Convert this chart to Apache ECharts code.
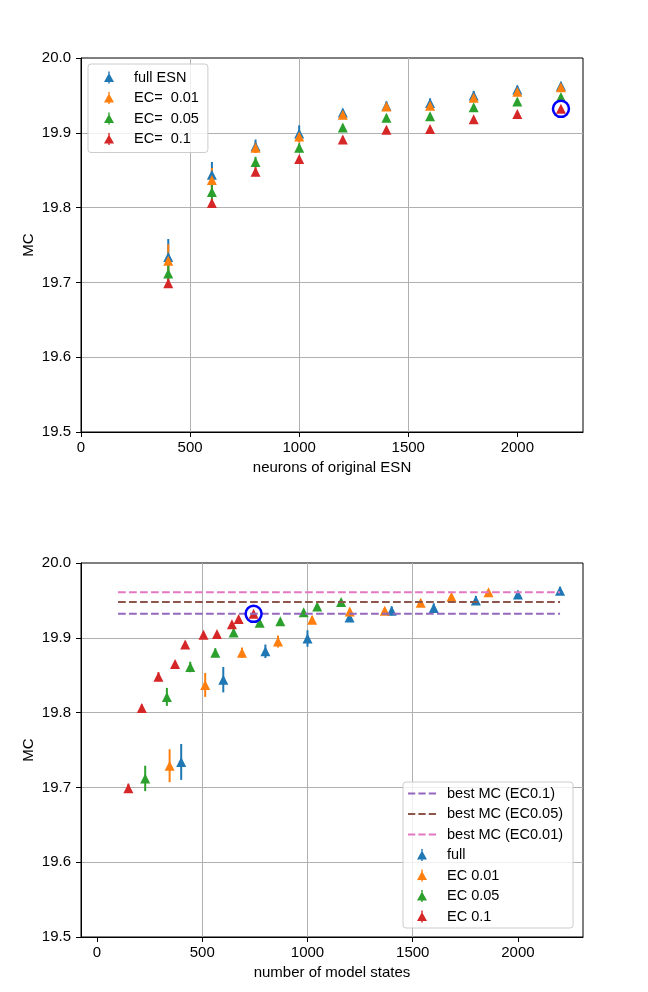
<!DOCTYPE html>
<html>
<head>
<meta charset="utf-8">
<script src="https://cdn.jsdelivr.net/npm/echarts@6/dist/echarts.min.js"></script>
<style>
  html, body { margin: 0; padding: 0; background: #fff; }
  #chart { width: 648px; height: 992px; }
</style>
</head>
<body>
<div id="chart"></div>
<script>
// values
const neurons = [400, 600, 800, 1000, 1200, 1400, 1600, 1800, 2000, 2200];

const mcFull = [19.734, 19.844, 19.882, 19.899, 19.927, 19.936, 19.940, 19.950, 19.958, 19.963];
const mcEc001 = [19.729, 19.837, 19.880, 19.895, 19.924, 19.935, 19.936, 19.947, 19.955, 19.961];
const mcEc005 = [19.712, 19.821, 19.861, 19.880, 19.907, 19.920, 19.922, 19.934, 19.942, 19.948];
const mcEc01 = [19.699, 19.806, 19.848, 19.865, 19.891, 19.904, 19.905, 19.918, 19.925, 19.932];

const errFull = [0.024, 0.017, 0.009, 0.011, 0.005, 0.006, 0.006, 0.006, 0.005, 0.005];
const errEc001 = [0.022, 0.016, 0.007, 0.008, 0.005, 0.004, 0.004, 0.004, 0.003, 0.003];
const errEc005 = [0.017, 0.012, 0.007, 0.006, 0.004, 0.004, 0.003, 0.003, 0.003, 0.003];
const errEc01 = [0.006, 0.005, 0.006, 0.004, 0.004, 0.003, 0.003, 0.003, 0.003, 0.003];

// number of model states (bottom panel)
const statesFull = neurons;
const statesEc001 = [345, 514, 689, 860, 1022, 1201, 1367, 1538, 1684, 1860];
const statesEc005 = [229, 332, 443, 562, 649, 773, 871, 982, 1046, 1160];
const statesEc01 = [149, 213, 292, 371, 419, 506, 570, 641, 673, 744];

const bestNames = ['best MC (EC0.1)', 'best MC (EC0.05)', 'best MC (EC0.01)'];
const bestValues = [19.932, 19.948, 19.961];
const bestRange = [100, 2200];

const circleTop = [[2200, 19.932]];
const circleBottom = [[744, 19.932]];

const xTicks = [0, 500, 1000, 1500, 2000];

const topNames = ['full ESN', 'EC=  0.01', 'EC=  0.05', 'EC=  0.1'];
const bottomNames = ['full', 'EC 0.01', 'EC 0.05', 'EC 0.1'];

const colors = ['#1f77b4', '#ff7f0e', '#2ca02c', '#d62728'];
const bestColors = ['#9467bd', '#8c564b', '#e377c2'];
const FONT = '"Liberation Sans", Arial, sans-serif';

// legend icons: triangle with its error bar, and a dashed line
const triIcon = 'path://M5,1.5 L10,10.5 L0,10.5 Z M4.3,0 L5.7,0 L5.7,12 L4.3,12 Z';
const dashIcon = 'path://M0,0 h7.7 v2 h-7.7 Z M11,0 h7.7 v2 h-7.7 Z M22,0 h7.7 v2 h-7.7 Z';

function errorbarSeries(name, xs, ys, errs, color, gi) {
    return [{
        type: 'custom',
        name: name + ' err',
        xAxisIndex: gi,
        yAxisIndex: gi,
        silent: true,
        data: xs.map((x, i) => [x, ys[i] - errs[i], ys[i] + errs[i]]),
        encode: { x: 0, y: [1, 2] },
        renderItem: function (params, api) {
            const a = api.coord([api.value(0), api.value(1)]);
            const b = api.coord([api.value(0), api.value(2)]);
            return {
                type: 'line',
                shape: { x1: a[0], y1: a[1], x2: b[0], y2: b[1] },
                style: { stroke: color, lineWidth: 2 }
            };
        }
    }, {
        type: 'scatter',
        name: name,
        xAxisIndex: gi,
        yAxisIndex: gi,
        data: xs.map((x, i) => [x, ys[i]]),
        symbol: 'triangle',
        symbolSize: 10,
        itemStyle: { color: color, opacity: 1 }
    }];
}

function circleSeries(data, gi) {
    return {
        type: 'scatter',
        xAxisIndex: gi,
        yAxisIndex: gi,
        data: data,
        symbol: 'circle',
        symbolSize: 16,
        z: 5,
        itemStyle: { color: 'rgba(0,0,0,0)', borderColor: '#0000ff', borderWidth: 2.5, opacity: 1 }
    };
}

function xAxisCfg(gi, min, max, name) {
    return {
        type: 'value',
        gridIndex: gi,
        min: min,
        max: max,
        name: name,
        nameLocation: 'middle',
        nameGap: 28,
        nameMoveOverlap: false,
        nameTextStyle: { fontFamily: FONT, fontSize: 15, color: '#000' },
        axisLine: { show: true, onZero: false, lineStyle: { color: '#000', width: 1 } },
        axisTick: { show: true, inside: false, length: 5, customValues: xTicks, lineStyle: { color: '#000', width: 1 } },
        axisLabel: { fontFamily: FONT, fontSize: 15, color: '#000', margin: 8, customValues: xTicks, formatter: v => String(v) },
        splitLine: { show: true, showMinLine: false, showMaxLine: false, lineStyle: { color: '#b0b0b0', width: 1 } }
    };
}

function yAxisCfg(gi) {
    return {
        type: 'value',
        gridIndex: gi,
        min: 19.5,
        max: 20.0,
        interval: 0.1,
        name: 'MC',
        nameLocation: 'middle',
        nameGap: 45,
        nameRotate: 90,
        nameMoveOverlap: false,
        nameTextStyle: { fontFamily: FONT, fontSize: 15, color: '#000' },
        axisLine: { show: true, onZero: false, lineStyle: { color: '#000', width: 1 } },
        axisTick: { show: true, inside: false, length: 5, lineStyle: { color: '#000', width: 1 } },
        axisLabel: { fontFamily: FONT, fontSize: 15, color: '#000', margin: 10, formatter: v => v.toFixed(1) },
        splitLine: { show: true, showMinLine: false, showMaxLine: false, lineStyle: { color: '#b0b0b0', width: 1 } }
    };
}

const legendBase = {
    orient: 'vertical',
    itemWidth: 28,
    itemHeight: 12,
    itemGap: 5.5,
    selectedMode: false,
    backgroundColor: 'rgba(255,255,255,0.8)',
    borderColor: '#cccccc',
    borderWidth: 1,
    borderRadius: 3,
    // small spacer so the text starts a bit further from the icon
    formatter: n => '{g|}' + n,
    textStyle: {
        fontFamily: FONT, fontSize: 14.5, lineHeight: 14, color: '#000',
        rich: { g: { width: 6, lineHeight: 14 } }
    }
};

const series = [];

// best MC lines (bottom panel, drawn first)
bestNames.forEach((n, i) => {
    series.push({
        type: 'line',
        name: n,
        xAxisIndex: 1,
        yAxisIndex: 1,
        data: bestRange.map(x => [x, bestValues[i]]),
        symbol: 'none',
        silent: true,
        lineStyle: { color: bestColors[i], width: 2, type: [7.7, 3.3] },
        itemStyle: { color: bestColors[i] }
    });
});

const mcs = [mcFull, mcEc001, mcEc005, mcEc01];
const errs = [errFull, errEc001, errEc005, errEc01];
const states = [statesFull, statesEc001, statesEc005, statesEc01];

for (let k = 0; k < 4; k++) {
    series.push(...errorbarSeries(topNames[k], neurons, mcs[k], errs[k], colors[k], 0));
}
series.push(circleSeries(circleTop, 0));

for (let k = 0; k < 4; k++) {
    series.push(...errorbarSeries(bottomNames[k], states[k], mcs[k], errs[k], colors[k], 1));
}
series.push(circleSeries(circleBottom, 1));

const chart = echarts.init(document.getElementById('chart'), null, { renderer: 'canvas' });

chart.setOption({
    animation: false,
    backgroundColor: '#fff',
    textStyle: { fontFamily: FONT },
    grid: [
        { left: 81, top: 58, width: 502, height: 374, show: true, borderColor: '#000', borderWidth: 1 },
        { left: 81, top: 563, width: 502, height: 374, show: true, borderColor: '#000', borderWidth: 1 }
    ],
    xAxis: [
        xAxisCfg(0, 0, 2301, 'neurons of original ESN'),
        xAxisCfg(1, -76, 2309, 'number of model states')
    ],
    yAxis: [yAxisCfg(0), yAxisCfg(1)],
    legend: [
        Object.assign({}, legendBase, {
            left: 88, top: 64,
            padding: [6, 9, 6, 16],
            data: topNames.map(n => ({ name: n, icon: triIcon }))
        }),
        Object.assign({}, legendBase, {
            left: 403, top: 782,
            padding: [4, 10, 4, 5],
            data: bestNames.map(n => ({ name: n, icon: dashIcon }))
                .concat(bottomNames.map(n => ({ name: n, icon: triIcon })))
        })
    ],
    series: series
});
</script>
</body>
</html>
